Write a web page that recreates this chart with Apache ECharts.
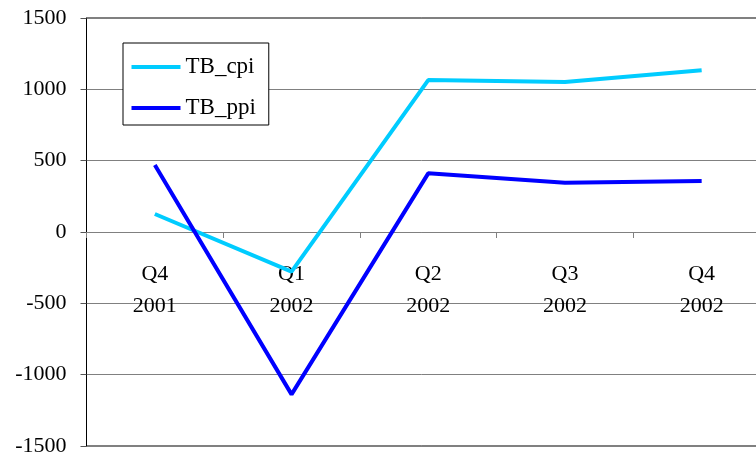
<!DOCTYPE html>
<html>
<head>
<meta charset="utf-8">
<script src="https://cdn.jsdelivr.net/npm/echarts@6/dist/echarts.min.js"></script>
<style>
  html, body { margin: 0; padding: 0; background: #fff; }
  #chart { width: 756px; height: 463px; }
</style>
</head>
<body>
<div id="chart"></div>
<script>
// Quarterly series
const categories = ['Q4\n2001', 'Q1\n2002', 'Q2\n2002', 'Q3\n2002', 'Q4\n2002'];
const tbCpi = [126, -278, 1065, 1051, 1133];
const tbPpi = [470, -1138, 411, 346, 357];
const yTicks = { min: -1500, max: 1500, step: 500 };

const serif = '"Liberation Serif", "DejaVu Serif", serif';
const grid = { left: 86.5, top: 18, right: -14, bottom: 17 };
const chartHeight = 463;
const plotHeight = chartHeight - grid.top - grid.bottom;
// category axis sits at value 0: shift it up from the bottom edge by that fraction of the plot
const zeroShift = plotHeight * (0 - yTicks.min) / (yTicks.max - yTicks.min);

const chart = echarts.init(document.getElementById('chart'));

chart.setOption({
  animation: false,
  backgroundColor: '#ffffff',
  grid: Object.assign({
    show: true, borderColor: '#000', borderWidth: 1,
    containLabel: false, outerBoundsMode: 'none'
  }, grid),
  legend: {
    orient: 'vertical',
    left: 123, top: 43,
    padding: [12, 13, 5, 8.5],
    itemGap: 17,
    itemWidth: 49,
    itemHeight: 4,
    icon: 'rect',
    borderColor: '#000',
    borderWidth: 1,
    borderRadius: 0,
    backgroundColor: '#fff',
    textStyle: { fontFamily: serif, fontSize: 23, lineHeight: 24, color: '#000' },
    data: ['TB_cpi', 'TB_ppi']
  },
  xAxis: {
    type: 'category',
    data: categories,
    boundaryGap: true,
    position: 'bottom',
    offset: -zeroShift,
    axisLine: { onZero: false, lineStyle: { color: '#808080', width: 1 } },
    axisTick: { show: true, length: 6, lineStyle: { color: '#808080' } },
    axisLabel: {
      fontFamily: serif, fontSize: 22, color: '#000',
      lineHeight: 32, margin: 26
    },
    splitLine: { show: false }
  },
  yAxis: {
    type: 'value',
    min: yTicks.min, max: yTicks.max, interval: yTicks.step,
    axisLine: { show: true, lineStyle: { color: '#000', width: 1 } },
    axisTick: { show: true, length: 6, lineStyle: { color: '#555' } },
    axisLabel: {
      fontFamily: serif, fontSize: 22, color: '#000', margin: 20,
      formatter: v => String(v)
    },
    splitLine: { show: true, lineStyle: { color: '#808080', width: 1 } }
  },
  series: [
    {
      name: 'TB_cpi', type: 'line', data: tbCpi,
      symbol: 'none', color: '#00CCFF',
      lineStyle: { width: 4, color: '#00CCFF' }
    },
    {
      name: 'TB_ppi', type: 'line', data: tbPpi,
      symbol: 'none', color: '#0000FF',
      lineStyle: { width: 4, color: '#0000FF' }
    }
  ]
});
</script>
</body>
</html>
